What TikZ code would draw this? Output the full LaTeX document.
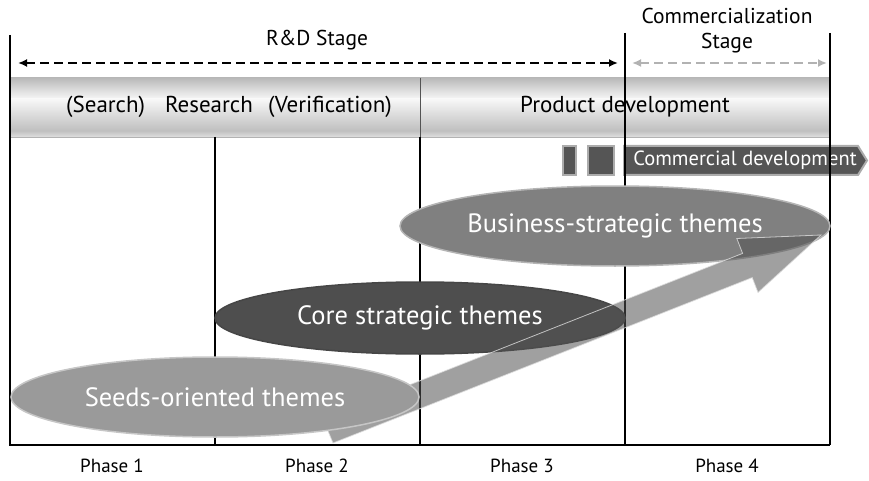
\documentclass[tikz,border=0pt]{standalone}
\usepackage{fontspec}
\setmainfont{PT Sans}
\usetikzlibrary{shapes.geometric,arrows.meta}

\definecolor{seedgray}{HTML}{9A9A9A}
\definecolor{coregray}{HTML}{4E4E4E}
\definecolor{bizgray}{HTML}{808080}
\definecolor{bannergray}{HTML}{555555}
\definecolor{arrowgray}{HTML}{525252}

\tikzset{
  theme/.style={ellipse, inner sep=0pt, text=white, line width=1.5pt, font=\fontsize{26.5}{29}\selectfont},
  stagearrow/.style={dash pattern=on 9pt off 5pt, line width=1.8pt, {Latex[length=9pt,width=8pt]}-{Latex[length=9pt,width=8pt]}},
  phaseline/.style={line width=1.1pt},
  bevelbox/.style={fill=bannergray, draw=gray!65, line width=2pt},
  headtext/.style={font=\fontsize{21.5}{25}\selectfont},
  bartext/.style={font=\fontsize{23}{25}\selectfont},
  phasetext/.style={font=\fontsize{19}{21}\selectfont},
}

\begin{document}
\begin{tikzpicture}[x=1pt, y=-1pt]
        \useasboundingbox (0,0) rectangle (869,481);

        % Stage headings
        \node[headtext] (rdlabel) at (317,40) {R\&D Stage};
        \node[headtext, align=center] (commlabel) at (727,31) {Commercialization\\Stage};

        % Stage arrows
        \coordinate (rdL) at (18,63);
        \coordinate (rdR) at (618,63);
        \coordinate (cmL) at (632,63);
        \coordinate (cmR) at (827,63);
        \draw[stagearrow] (rdL) -- (rdR);
        \draw[stagearrow, gray!60] (cmL) -- (cmR);

        % Header bar (cylinder look)
        \shade[top color=gray!55, bottom color=gray!6] (10,78) rectangle (830,99);
        \shade[top color=gray!6, bottom color=gray!52] (10,99) rectangle (830,132);
        \shade[top color=gray!45, bottom color=gray!25] (10,132) rectangle (830,137);
        \draw[gray!60, line width=0.8pt] (10,137) -- (830,137);
        \draw[gray!65!black, line width=0.8pt] (420,78) -- (420,137);
        \node[bartext] (research) at (229,107) {(Search)\hspace{0.6em} Research\hspace{0.4em} (Verification)};
        \node[bartext] (product) at (625,107) {Product development};

        % Commercial development banner
        \draw[bevelbox] (563,146) rectangle (576,175);
        \draw[bevelbox] (588,146) rectangle (614,175);
        \draw[bevelbox] (624,146) -- (858,146) -- (867,160.5) -- (858,175) -- (624,175) -- cycle;
        \node[text=white, font=\fontsize{20.5}{22}\selectfont] (commdev) at (745,160.5) {Commercial development};

        % Phase grid
        \draw[phaseline] (10,35) -- (10,445) -- (830,445);
        \draw[phaseline] (215,137) -- (215,445);
        \draw[phaseline] (420,137) -- (420,445);
        \draw[phaseline] (625,33) -- (625,445);
        \draw[phaseline] (830,33) -- (830,445);

        % Themes
        \node[theme, fill=coregray, draw=gray!55!black, minimum width=410pt, minimum height=72pt] (core) at (420,318) {Core strategic themes};
        \node[theme, fill=bizgray, draw=gray!58, minimum width=430pt, minimum height=80pt] (business) at (615,226) {Business-strategic themes};

        % Growth arrow
        \path[fill=arrowgray, fill opacity=0.55, draw=gray!25, draw opacity=0.8, line width=0.8pt]
            (323,419) -- (742.6,253.4) -- (736.8,238.5) -- (821,235)
            -- (758,292.5) -- (752.2,277.6) -- (333,443) -- cycle;

        \node[theme, fill=seedgray, draw=gray!45, minimum width=408pt, minimum height=80pt] (seeds) at (215,397) {Seeds-oriented themes};

        % Phase labels
        \node[phasetext] (ph1) at (112,466) {Phase 1};
        \node[phasetext] (ph2) at (317,466) {Phase 2};
        \node[phasetext] (ph3) at (522,466) {Phase 3};
        \node[phasetext] (ph4) at (727,466) {Phase 4};
\end{tikzpicture}
\end{document}
